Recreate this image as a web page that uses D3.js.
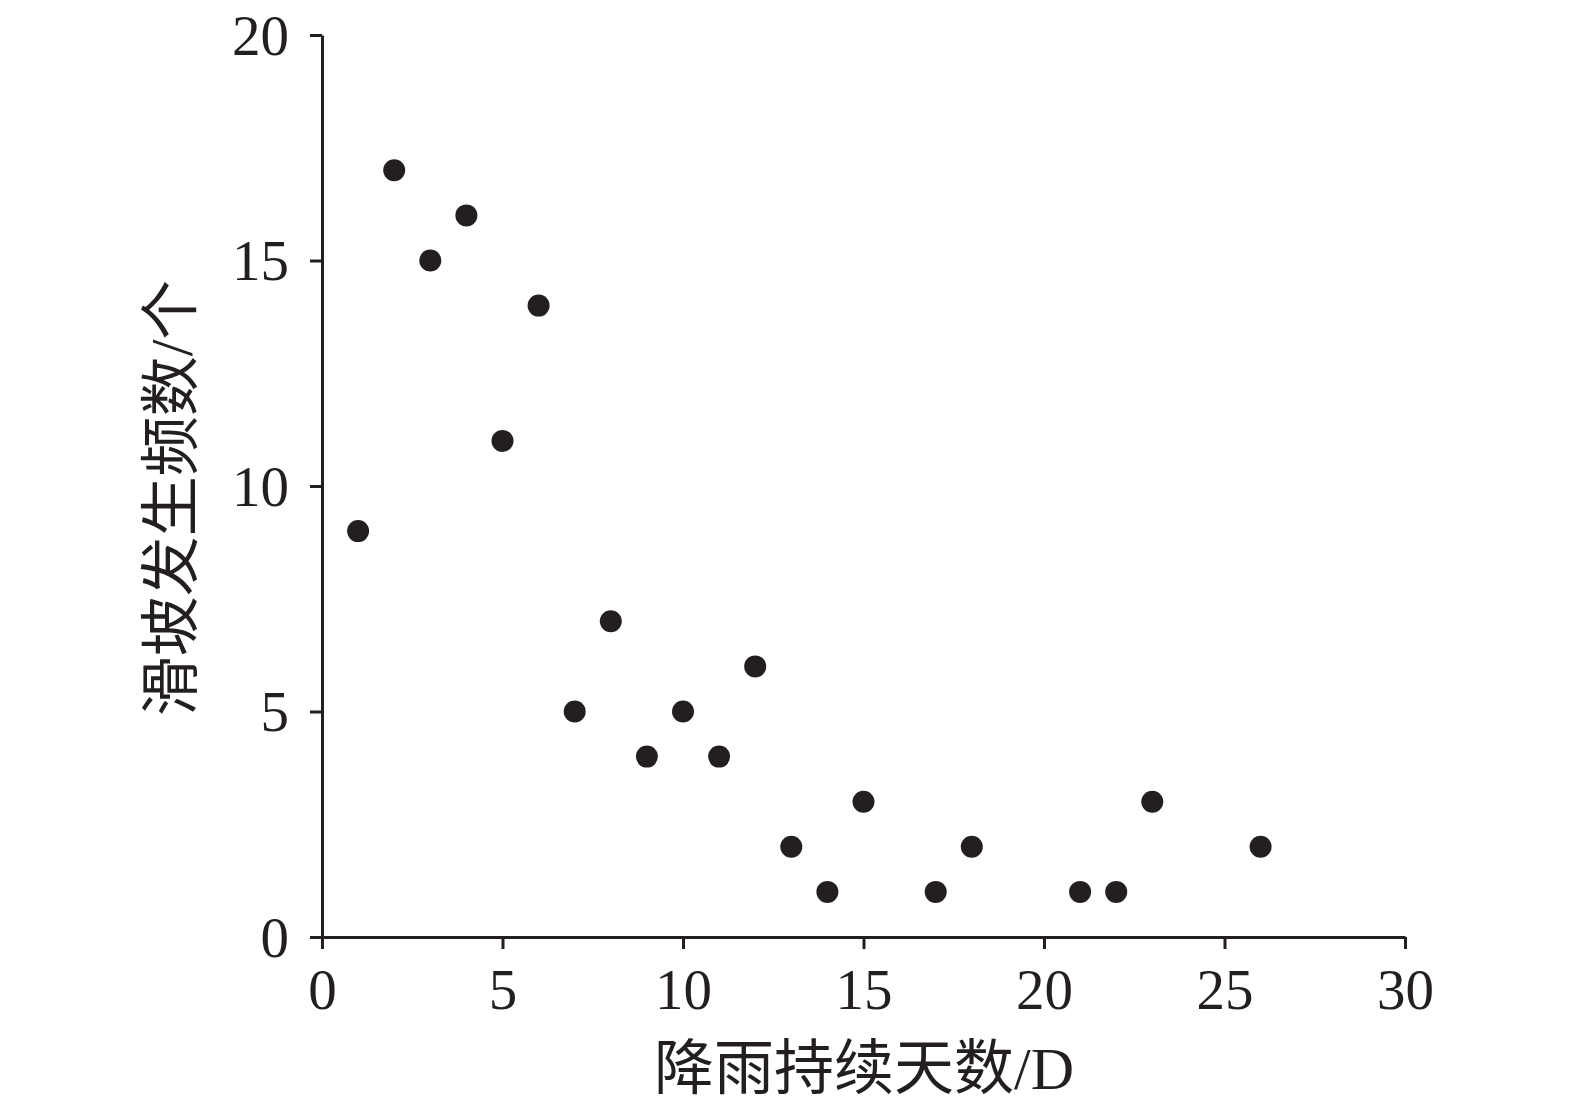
<!DOCTYPE html>
<html><head><meta charset="utf-8">
<script src="https://cdn.jsdelivr.net/npm/d3@7"></script>
<style>body{margin:0;background:#fff}</style>
</head><body>
<svg id="c" width="1575" height="1108"></svg>
<script>
const days = [1,2,3,4,5,6,7,8,9,10,11,12,13,14,15,17,18,21,22,23,26];
const counts = [9,17,15,16,11,14,5,7,4,5,4,6,2,1,3,1,2,1,1,3,2];
const xTicks = [0,5,10,15,20,25,30];
const yTicks = [0,5,10,15,20];
const xTitle = "降雨持续天数/D";
const yTitle = "滑坡发生频数/个";

const ink = "#231f20";
const font = "'Liberation Serif','Times New Roman','Noto Sans CJK SC',serif";
const svg = d3.select("#c");
const x = d3.scaleLinear().domain([0,30]).range([322,1405]);
const y = d3.scaleLinear().domain([0,20]).range([937,35]);

const gx = svg.append("g").attr("transform","translate(0,937)")
  .call(d3.axisBottom(x).tickValues(xTicks).tickSize(12).tickPadding(20).tickSizeOuter(0));
const gy = svg.append("g").attr("transform","translate(322,0)")
  .call(d3.axisLeft(y).tickValues(yTicks).tickSize(12).tickPadding(21).tickSizeOuter(0));
[gx,gy].forEach(g=>{
  g.select(".domain").attr("stroke",ink).attr("stroke-width",3);
  g.selectAll(".tick line").attr("stroke",ink).attr("stroke-width",3);
  g.selectAll(".tick text").attr("fill",ink).style("font-family",font).style("font-size","57px");
});
gy.selectAll(".tick text").attr("dy","0.34em");

svg.append("g").selectAll("circle").data(days).join("circle")
  .attr("cx",(d)=>x(d)).attr("cy",(d,i)=>y(counts[i])).attr("r",11).attr("fill",ink);

svg.append("text").attr("x",864).attr("y",1089).attr("text-anchor","middle")
  .attr("fill",ink).style("font-family",font).style("font-size","60px").text(xTitle);
svg.append("text").attr("transform","translate(192,498) rotate(-90)").attr("text-anchor","middle")
  .attr("fill",ink).style("font-family",font).style("font-size","60px").text(yTitle);
</script>
</body></html>
